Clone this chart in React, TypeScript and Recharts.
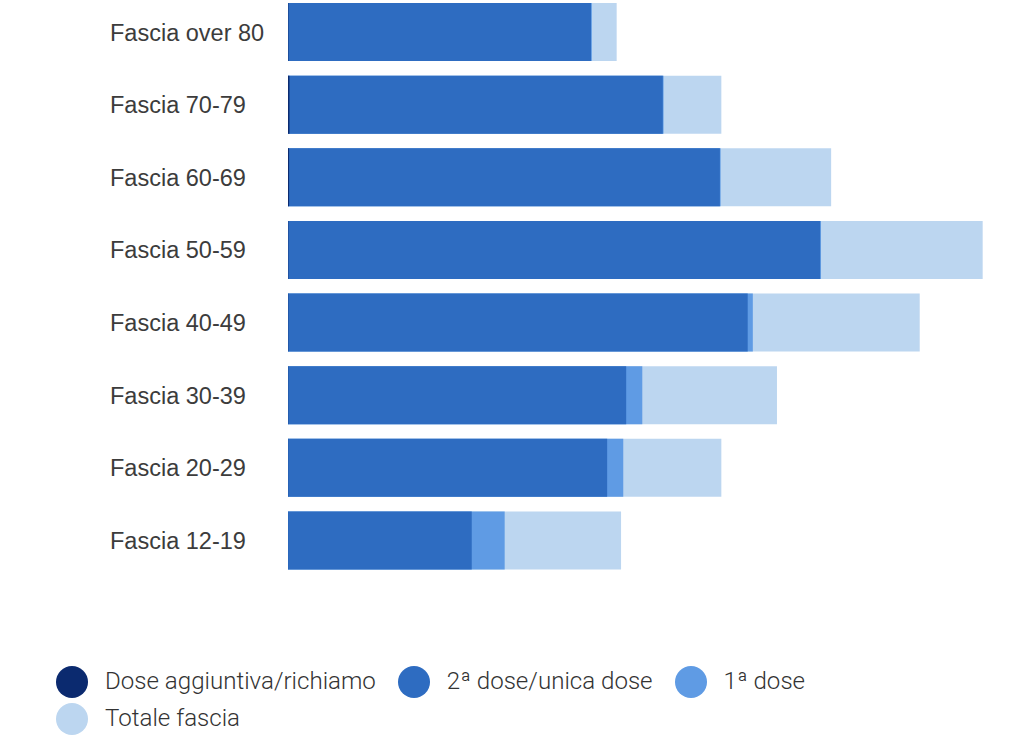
import React from 'react';
import { BarChart, Bar, XAxis, YAxis, Legend } from 'recharts';

const categories = ['Fascia over 80', 'Fascia 70-79', 'Fascia 60-69', 'Fascia 50-59', 'Fascia 40-49', 'Fascia 30-39', 'Fascia 20-29', 'Fascia 12-19'];
const doseAggiuntiva = [6000, 20000, 15000, 5000, 4000, 3000, 2000, 1000];
const secondaDose = [4140000, 5120000, 5900000, 7270000, 6280000, 4620000, 4360000, 2510000];
const primaDose = [4150000, 5130000, 5910000, 7280000, 6350000, 4840000, 4580000, 2960000];
const totaleFascia = [4490000, 5920000, 7420000, 9490000, 8630000, 6680000, 5920000, 4550000];

const seriesNames = ['Dose aggiuntiva/richiamo', '2ª dose/unica dose', '1ª dose', 'Totale fascia'];
const colors = ['#0b2a6f', '#2e6cc1', '#5f9be4', '#bcd6f0'];

const data = categories.map((name, i) => ({
  name,
  da: doseAggiuntiva[i],
  d2: secondaDose[i],
  d1: primaDose[i],
  tot: totaleFascia[i],
}));

const TICK_FONT = '"Liberation Sans", Arial, sans-serif';
const LEGEND_FONT = 'Roboto, "Noto Sans", sans-serif';

const Tick = (props: any) => {
  const { y, payload } = props;
  return (
    <text x={110} y={y} dy="0.35em" textAnchor="start" fill="#3c3c3c" fontSize={23.5} fontFamily={TICK_FONT}>
      {payload.value}
    </text>
  );
};

const LegendContent = () => (
  <div style={{ display: 'flex', flexWrap: 'wrap', width: 880, marginLeft: 56, fontFamily: LEGEND_FONT }}>
    {seriesNames.map((n, i) => (
      <div key={n} style={{ display: 'flex', alignItems: 'center', height: 37, marginRight: 22 }}>
        <div style={{ width: 32, height: 32, borderRadius: 16, background: colors[i], marginRight: 17 }} />
        <span style={{ fontSize: 24.1, color: '#333', fontWeight: 300, lineHeight: '37px' }}>{n}</span>
      </div>
    ))}
  </div>
);

export default function App() {
  return (
    <div style={{ position: 'absolute', left: 0, top: -4, width: 1024, height: 751 }}>
      <BarChart
        width={1024}
        height={751}
        data={data}
        layout="vertical"
        margin={{ top: 0, right: 4, bottom: 170, left: 0 }}
      >
        <XAxis type="number" domain={[0, 10000000]} hide />
        <YAxis yAxisId="tot" type="category" dataKey="name" width={288} axisLine={false} tickLine={false} tick={<Tick />} />
        <YAxis yAxisId="d1" type="category" dataKey="name" hide />
        <YAxis yAxisId="d2" type="category" dataKey="name" hide />
        <YAxis yAxisId="da" type="category" dataKey="name" hide />
        <Bar yAxisId="tot" dataKey="tot" name={seriesNames[3]} fill={colors[3]} barSize={58} isAnimationActive={false} />
        <Bar yAxisId="d1" dataKey="d1" name={seriesNames[2]} fill={colors[2]} barSize={58} isAnimationActive={false} />
        <Bar yAxisId="d2" dataKey="d2" name={seriesNames[1]} fill={colors[1]} barSize={58} isAnimationActive={false} />
        <Bar yAxisId="da" dataKey="da" name={seriesNames[0]} fill={colors[0]} barSize={58} isAnimationActive={false} />
        <Legend
          layout="horizontal"
          verticalAlign="middle"
          align="center"
          content={<LegendContent />}
          wrapperStyle={{ top: 667, left: 0, width: 1024, height: 74 }}
        />
      </BarChart>
    </div>
  );
}
